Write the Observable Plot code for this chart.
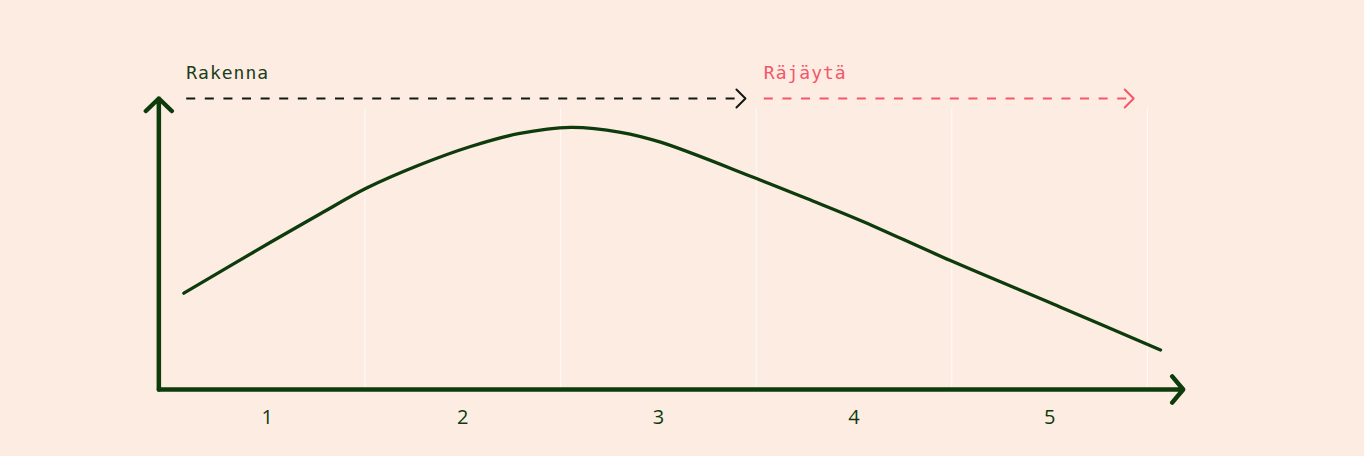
<!DOCTYPE html>
<html><head><meta charset="utf-8">
<script src="https://cdn.jsdelivr.net/npm/d3@7"></script>
<script src="https://cdn.jsdelivr.net/npm/@observablehq/plot@0.6"></script>
<style>
html,body{margin:0;padding:0;background:#fdece2;}
#chart{width:1364px;height:456px;overflow:hidden;}
</style></head><body><div id="chart"></div>
<script>
// ---- data ----
const xTicks = [1, 2, 3, 4, 5];
const gridX = [1.5, 2.5, 3.5, 4.5, 5.5];
const curveX = [0.574, 1.017, 1.272, 1.511, 1.784, 2.04, 2.284, 2.551, 2.807, 3.011, 3.505, 3.778, 4.033, 4.493, 5.056, 5.567];
const curveY = [33.1, 50.6, 60.4, 69.3, 77.3, 83.5, 87.9, 90.1, 88.4, 85.0, 72.4, 65.1, 58.1, 44.3, 28.3, 13.6];
const phaseLabels = ["Rakenna", "Räjäytä"];
const phaseStart = [0.586, 3.539];
const phaseEnd = [3.445, 5.43];
const phaseLevel = 100;
const axisOriginX = 0.446;
const axisEndX = 5.683;
const axisTopY = 100;
const gridTopY = 96.6;

// ---- style ----
const green = "#0e3b0c";
const phaseStroke = ["#121812", "#f4566a"];
const phaseText = ["#1b3d1b", "#f4566a"];

const curve = curveX.map((x, i) => ({x, y: curveY[i]}));
const phases = phaseLabels.map((label, i) => ({label, x1: phaseStart[i], x2: phaseEnd[i], y: phaseLevel, i}));
const chevron = {draw(ctx, size) {const r = Math.sqrt(size / Math.PI); ctx.moveTo(-r, -r); ctx.lineTo(0, 0); ctx.lineTo(-r, r);}};

const svg = Plot.plot({
  width: 1364, height: 456,
  marginTop: 98, marginBottom: 67, marginLeft: 168.9, marginRight: 217.1,
  x: {domain: [0.5, 5.5], label: null},
  y: {domain: [0, 100], axis: null},
  style: {background: "#fdece2", color: green, overflow: "visible"},
  marks: [
    Plot.ruleX(gridX, {y1: 0, y2: gridTopY, stroke: "#ffffff", strokeOpacity: 0.75, strokeWidth: 1}),
    Plot.line(curve, {x: "x", y: "y", curve: "catmull-rom", stroke: green, strokeWidth: 3.3}),
    Plot.arrow([0], {x1: axisOriginX, y1: 0, x2: axisOriginX, y2: axisTopY, stroke: green, strokeWidth: 4.5, headLength: 6, headAngle: 92}),
    Plot.arrow([0], {x1: axisOriginX, y1: 0, x2: axisEndX, y2: 0, stroke: green, strokeWidth: 4.5, headLength: 5.7, headAngle: 100}),
    Plot.axisX({ticks: xTicks, tickFormat: "d", tickSize: 0, tickPadding: 20, fontSize: 20, fontFamily: "Open Sans", fill: green, label: null}),
    Plot.link(phases, {x1: "x1", x2: "x2", y1: "y", y2: "y", stroke: d => phaseStroke[d.i], strokeWidth: 2, strokeDasharray: "9,9.6", strokeLinecap: "butt"}),
    Plot.dot(phases, {x: "x2", y: "y", symbol: chevron, r: 9, fill: "none", stroke: d => phaseStroke[d.i], strokeWidth: 2, strokeLinecap: "round", strokeLinejoin: "round"}),
    Plot.text(phases, {x: "x1", y: "y", text: "label", textAnchor: "start", dy: -25, fill: d => phaseText[d.i], fontFamily: "DejaVu Sans Mono", fontSize: 18})
  ]
});
d3.select(svg).selectAll('g[aria-label="text"] text').style("letter-spacing", "1px");
document.getElementById("chart").appendChild(svg);
</script>
</body></html>
